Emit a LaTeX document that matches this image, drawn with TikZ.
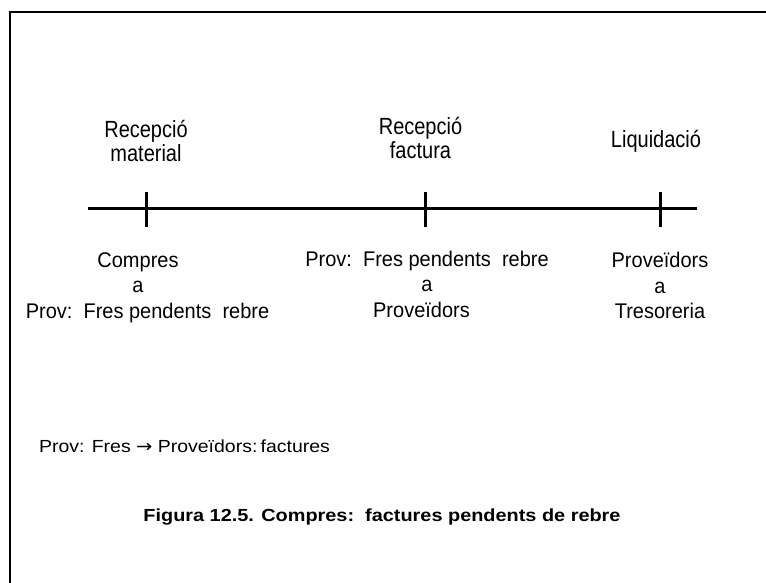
\documentclass[tikz,border=0pt]{standalone}
\usepackage{graphicx}
\usepackage{fontspec}
\setmainfont{Liberation Sans}
\newfontfamily\arrowfont{DejaVu Sans}
% stacked, centred lines, stretched vertically by #1
\newcommand{\txtstack}[2]{\scalebox{1}[#1]{\begin{tabular}[b]{@{}c@{}}#2\end{tabular}}}
\begin{document}
\begin{tikzpicture}[x=1pt,y=-1pt,
  evt/.style={font=\fontsize{20}{20.6}\selectfont, anchor=base, inner sep=0pt},
  entry/.style={font=\fontsize{20}{23.9}\selectfont, anchor=base, inner sep=0pt},
  note/.style={font=\fontsize{17}{20}\selectfont, anchor=base west, inner sep=0pt},
  figcaption/.style={font=\fontsize{17}{20}\selectfont\bfseries, anchor=base, inner sep=0pt},
  axis/.style={line width=3pt},
  tickmark/.style={line width=3pt},
  frame/.style={line width=2.2pt}]
\useasboundingbox (0,0) rectangle (766,583);
% frame (open to the right and bottom)
\coordinate (fb) at (10,590);
\coordinate (fc) at (10,12);
\coordinate (fr) at (770,12);
\draw[frame] (fb) -- (fc) -- (fr);
% time line
\coordinate (start) at (88,208);
\coordinate (end) at (697,208);
\draw[axis] (start) -- (end);
\foreach \n/\x in {t1/146, t2/425, t3/660}{
  \coordinate (\n) at (\x,208);
  \coordinate (\n a) at (\x,192);
  \coordinate (\n b) at (\x,227);
  \draw[tickmark] (\n a) -- (\n b);
}
% events
\node[evt] (e1) at (146,162) {\txtstack{1.17}{Recepció\\material}};
\node[evt] (e2) at (420.5,158.5) {\txtstack{1.17}{Recepció\\factura}};
\node[evt] (e3) at (656,148) {\txtstack{1.17}{Liquidació}};
% entries
\node[entry] (a1) at (147.5,318) {\txtstack{1.06}{Compres\hspace*{19pt}\\a\hspace*{19pt}\\Prov:\ \ Fres pendents\ \ rebre}};
\node[entry] (a2) at (427,317) {\txtstack{1.06}{Prov:\ \ Fres pendents\ \ rebre\\a\\Proveïdors\hspace*{11pt}}};
\node[entry] (a3) at (660,318.5) {\txtstack{1.06}{Proveïdors\\a\\Tresoreria}};
% note and caption
\node[note] (n) at (39,452) {\scalebox{1.145}[1.03]{Prov: Fres {\arrowfont →} Proveïdors:\,factures}};
\node[figcaption] (c) at (382,521) {\scalebox{1.17}[1.03]{Figura 12.5. Compres:\ \ factures pendents de rebre}};
\end{tikzpicture}
\end{document}
